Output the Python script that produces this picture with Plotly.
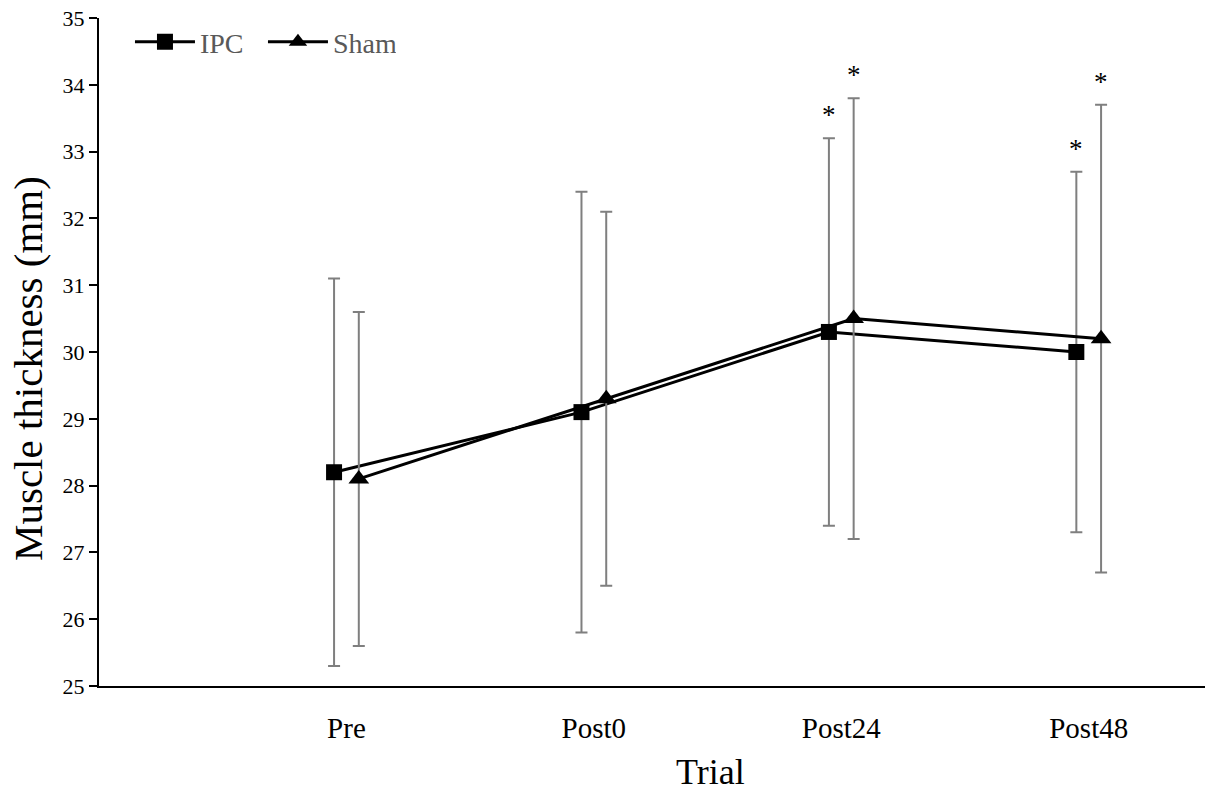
import plotly.graph_objects as go

categories = ["Pre", "Post0", "Post24", "Post48"]
ipc_mean = [28.2, 29.1, 30.3, 30.0]
ipc_sd = [2.9, 3.3, 2.9, 2.7]
sham_mean = [28.1, 29.3, 30.5, 30.2]
sham_sd = [2.5, 2.8, 3.3, 3.5]
ipc_sig = [False, False, True, True]
sham_sig = [False, False, True, True]

pos = [i + 1 for i in range(len(categories))]
off = 0.05
x_ipc = [p - off for p in pos]
x_sham = [p + off for p in pos]

FONT = "Liberation Serif, Times New Roman, serif"

fig = go.Figure()
fig.add_trace(go.Scatter(
    x=x_ipc, y=ipc_mean, name="IPC", mode="lines+markers",
    line=dict(color="black", width=3),
    marker=dict(symbol="square", size=16, color="black"),
    error_y=dict(type="data", array=ipc_sd, visible=True, color="#7f7f7f", thickness=2, width=6),
))
fig.add_trace(go.Scatter(
    x=x_sham, y=sham_mean, name="Sham", mode="lines+markers",
    line=dict(color="black", width=3),
    marker=dict(symbol="triangle-up", size=18, color="black"),
    error_y=dict(type="data", array=sham_sd, visible=True, color="#7f7f7f", thickness=2, width=6),
))

for xs, m, sd, sig in [(x_ipc, ipc_mean, ipc_sd, ipc_sig), (x_sham, sham_mean, sham_sd, sham_sig)]:
    for x, mm, s, g in zip(xs, m, sd, sig):
        if g:
            fig.add_annotation(x=x, y=mm + s, text="*", showarrow=False,
                               yanchor="bottom", yshift=6,
                               font=dict(family=FONT, size=27, color="black"))

# axis titles
fig.add_annotation(text="Trial", xref="paper", yref="paper", x=0.553, y=-0.1287,
                   xanchor="center", yanchor="middle", showarrow=False,
                   font=dict(size=36, family=FONT, color="black"))
fig.add_annotation(text="Muscle thickness (mm)", xref="paper", yref="paper", x=-0.0642, y=0.476,
                   xanchor="center", yanchor="middle", showarrow=False, textangle=-90,
                   font=dict(size=41, family=FONT, color="black"))

fig.update_layout(
    width=1205, height=794,
    margin=dict(l=99, r=0, t=18, b=108),
    paper_bgcolor="white", plot_bgcolor="white",
    font=dict(family=FONT, color="black"),
    showlegend=True,
    legend=dict(x=0.028, y=0.964, xanchor="left", yanchor="middle", orientation="h",
                font=dict(family=FONT, size=28, color="#595959"),
                bgcolor="rgba(0,0,0,0)", itemwidth=60,
                entrywidth=58, entrywidthmode="pixels", tracegroupgap=0),
    xaxis=dict(range=[0, 4.47], tickvals=pos, ticktext=categories, showgrid=False,
               zeroline=False, showline=True, linecolor="black", linewidth=2,
               ticks="outside", ticklen=15, tickcolor="rgba(0,0,0,0)", automargin=False,
               tickfont=dict(size=29, family=FONT, color="black")),
    yaxis=dict(range=[25, 35], dtick=1, showgrid=False, zeroline=False,
               showline=True, linecolor="black", linewidth=2, automargin=False,
               ticks="outside", ticklen=8, tickwidth=2, tickcolor="black",
               tickfont=dict(size=22, family=FONT, color="black")),
)

fig.write_html("out.html", config={"displayModeBar": False},
               post_script="document.body.style.margin='0';document.body.style.overflow='hidden';")
